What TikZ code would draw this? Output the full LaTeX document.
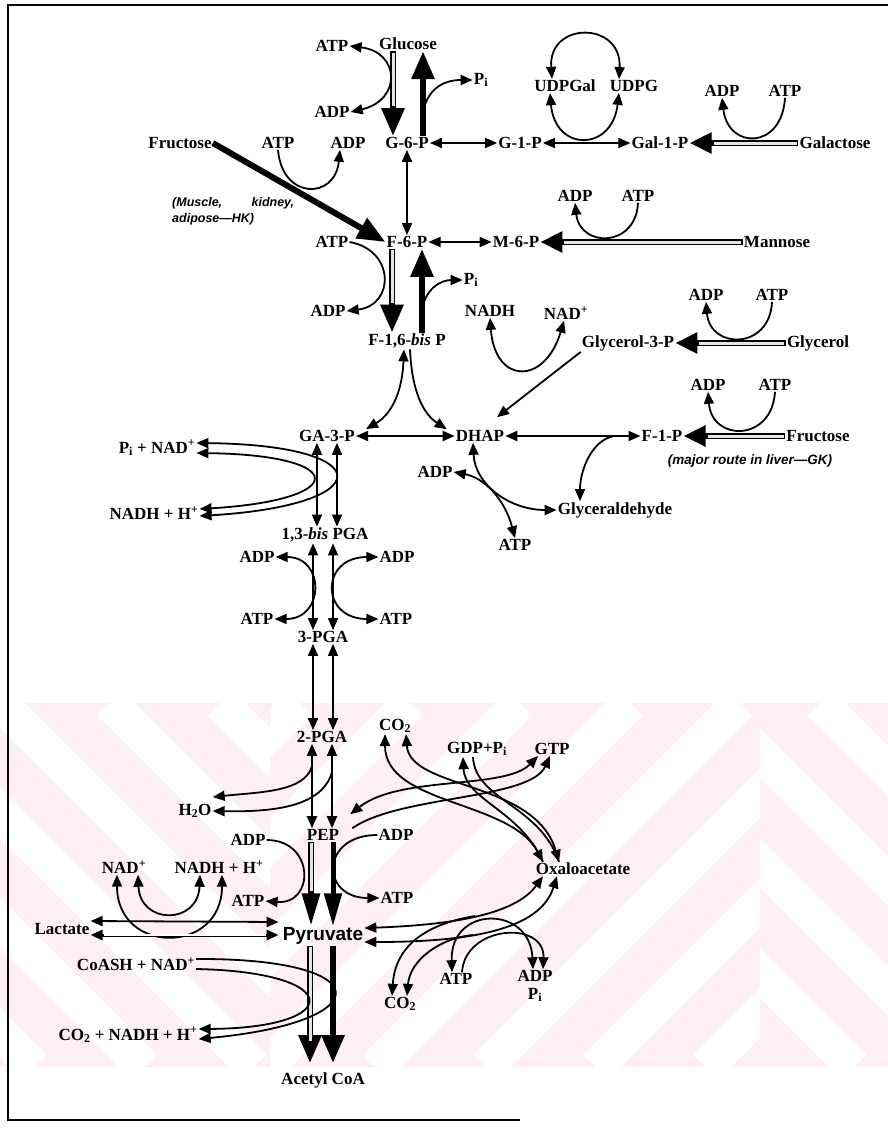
\documentclass[tikz,border=0pt]{standalone}
\usepackage{fontspec}
\setmainfont{Liberation Serif}
\setsansfont{Liberation Sans}
\usetikzlibrary{arrows.meta,positioning}
\definecolor{wmpink}{RGB}{253,239,242}
\definecolor{shaft}{RGB}{228,228,228}

\begin{document}
\begin{tikzpicture}[
  x=1pt, y=-1pt,
  lbl/.style={font=\bfseries\fontsize{17}{18}\selectfont, inner sep=1pt},
  pyrlbl/.style={font=\sffamily\bfseries\fontsize{19}{20}\selectfont, inner sep=1pt},
  note/.style={font=\sffamily\bfseries\itshape\fontsize{12.5}{16}\selectfont, inner sep=0pt, align=left},
  ar/.style={line width=1.8pt, -{Triangle[length=12pt,width=10pt]}},
  dar/.style={line width=1.8pt, {Triangle[length=12pt,width=10pt]}-{Triangle[length=12pt,width=10pt]}},
  plain/.style={line width=1.8pt},
  bigb/.style={line width=6pt, -{Triangle[length=28pt,width=22pt]}},
  hol/.style={line width=6pt, -{Triangle[length=28pt,width=22pt]},
    postaction={draw=shaft, line width=3pt, -, shorten >=30pt, shorten <=1.5pt}},
  bigs/.style={line width=5pt, -{Triangle[length=33pt,width=17pt]}},
  hols/.style={line width=6pt, -{Triangle[length=33pt,width=17pt]},
    postaction={draw=shaft, line width=3pt, -, shorten >=35pt, shorten <=1.5pt}},
  holh/.style={line width=6pt, -{Triangle[length=22pt,width=20pt]},
    postaction={draw=shaft, line width=3pt, -, shorten >=24pt, shorten <=1.5pt}},
  dhol/.style={line width=3pt, {Triangle[length=12pt,width=10pt]}-{Triangle[length=12pt,width=10pt]},
    postaction={draw=white, line width=1.2pt, -, shorten >=13pt, shorten <=13pt}}
]
\useasboundingbox (0,0) rectangle (888,1129);

\begin{scope}
  \clip (0,703) rectangle (888,1067);
  \fill[wmpink] (0,703) rectangle (888,1067);
  \begin{scope}
    \clip (0,703) rectangle (270,1067);
    \foreach \s in {-440,-330,...,280}
      \draw[white, line width=36pt] (\s,703) -- ++(364,364);
  \end{scope}
  \begin{scope}
    \clip (270,703) rectangle (760,1067);
    \foreach \s in {300,410,...,1200}
      \draw[white, line width=36pt] (\s,703) -- ++(-364,364);
  \end{scope}
  \begin{scope}
    \clip (760,703) rectangle (888,1067);
    \foreach \s in {380,490,...,900}
      \draw[white, line width=36pt] (\s,703) -- ++(364,364);
  \end{scope}
\end{scope}

\draw[line width=1.5pt] (888,5) -- (8,5) -- (8,1120) -- (520,1120);

\node[lbl] (atpA) at (332,46) {ATP};
\node[lbl] (glc) at (408,44) {Glucose};
\node[lbl] (adpA) at (332,112) {ADP};
\node[lbl] (piA) at (481,80) {P\textsubscript{i}};
\node[lbl] (udpgal) at (565,86) {UDPGal};
\node[lbl] (udpg) at (634,86) {UDPG};
\node[lbl] (adpB) at (722,91) {ADP};
\node[lbl] (atpB) at (785,91) {ATP};
\node[lbl] (fru) at (180,143) {Fructose};
\node[lbl] (atpC) at (278,143) {ATP};
\node[lbl] (adpC) at (348,143) {ADP};
\node[lbl] (g6p) at (407,143) {G-6-P};
\node[lbl] (g1p) at (520,143) {G-1-P};
\node[lbl] (gal1p) at (660,143) {Gal-1-P};
\node[lbl] (galac) at (835,143) {Galactose};
\node[note, anchor=west, text width=122pt] (hk) at (172,211) {(Muscle,\hfill kidney,\\adipose---HK)};
\node[lbl] (adpD) at (575,196) {ADP};
\node[lbl] (atpD) at (638,196) {ATP};
\node[lbl] (atpE) at (332,242) {ATP};
\node[lbl] (f6p) at (407,242) {F-6-P};
\node[lbl] (m6p) at (516,242) {M-6-P};
\node[lbl] (mann) at (777,242) {Mannose};
\node[lbl] (piB) at (471,280) {P\textsubscript{i}};
\node[lbl] (adpE) at (328,311) {ADP};
\node[lbl] (nadh) at (490,311) {NADH};
\node[lbl] (nadA) at (566,313) {NAD\textsuperscript{+}};
\node[lbl] (adpF) at (706,295) {ADP};
\node[lbl] (atpF) at (772,295) {ATP};
\node[lbl] (f16bp) at (407,341) {F-1,6-\textit{bis} P};
\node[lbl] (g3p) at (628,343) {Glycerol-3-P};
\node[lbl] (glyc) at (818,343) {Glycerol};
\node[lbl] (adpG) at (708,385) {ADP};
\node[lbl] (atpG) at (775,385) {ATP};
\node[lbl] (pinad) at (157,448) {P\textsubscript{i} + NAD\textsuperscript{+}};
\node[lbl] (ga3p) at (327,436) {GA-3-P};
\node[lbl] (dhap) at (480,436) {DHAP};
\node[lbl] (f1p) at (662,436) {F-1-P};
\node[lbl] (fruB) at (818,436) {Fructose};
\node[note, font=\sffamily\bfseries\itshape\fontsize{13.5}{16}\selectfont] (gk) at (750,461) {(major route in liver---GK)};
\node[lbl] (adpH) at (435,472) {ADP};
\node[lbl] (nadhA) at (154,513) {NADH + H\textsuperscript{+}};
\node[lbl] (glyald) at (615,510) {Glyceraldehyde};
\node[lbl] (bpga) at (325,535) {1,3-\textit{bis} PGA};
\node[lbl] (atpH) at (515,545) {ATP};
\node[lbl] (adpI) at (257,557) {ADP};
\node[lbl] (adpJ) at (397,557) {ADP};
\node[lbl] (atpI) at (257,619) {ATP};
\node[lbl] (atpJ) at (396,619) {ATP};
\node[lbl] (pga3) at (323,637) {3-PGA};
\node[lbl] (co2A) at (395,726) {CO\textsubscript{2}};
\node[lbl] (pga2) at (322,737) {2-PGA};
\node[lbl] (gdp) at (477,749) {GDP+P\textsubscript{i}};
\node[lbl] (gtp) at (552,749) {GTP};
\node[lbl] (h2o) at (195,811) {H\textsubscript{2}O};
\node[lbl] (adpK) at (248,840) {ADP};
\node[lbl] (pep) at (323,835) {PEP};
\node[lbl] (adpL) at (396,835) {ADP};
\node[lbl] (nadB) at (124,867) {NAD\textsuperscript{+}};
\node[lbl] (nadhB) at (219,867) {NADH + H\textsuperscript{+}};
\node[lbl] (oaa) at (583,869) {Oxaloacetate};
\node[lbl] (atpK) at (248,901) {ATP};
\node[lbl] (atpL) at (397,898) {ATP};
\node[lbl] (lact) at (62,929) {Lactate};
\node[pyrlbl] (pyr) at (323,936) {Pyruvate};
\node[lbl] (coash) at (136,964) {CoASH + NAD\textsuperscript{+}};
\node[lbl] (atpM) at (456,979) {ATP};
\node[lbl] (adpM) at (535,976) {ADP};
\node[lbl] (piC) at (535,995) {P\textsubscript{i}};
\node[lbl] (co2B) at (400,1004) {CO\textsubscript{2}};
\node[lbl] (co2n) at (128,1035) {CO\textsubscript{2} + NADH + H\textsuperscript{+}};
\node[lbl] (acoa) at (323,1080) {Acetyl CoA};

\coordinate (jpiA) at (423,112);
\coordinate (jpiB) at (422,312);
\coordinate (jglyald) at (614,436);
\coordinate (jh2oA) at (312,766);
\coordinate (jh2oB) at (332,772);
\coordinate (jco2A) at (475,916);
\coordinate (jco2B) at (473,935);

\draw[hol] ([xshift=-15pt]glc.south) -- ([xshift=-14pt]g6p.north);
\draw[bigb] ([xshift=16pt]g6p.north) -- ([xshift=15pt]glc.south);
\draw[dar] (atpA.east) .. controls (400,52) and (402,100) .. (adpA.east);
\draw[ar] (jpiA) .. controls (427,92) and (440,80) .. (piA.west);
\draw[dar] ([xshift=-13pt]udpgal.north) .. controls (548,21) and (622,21) .. ([xshift=-15pt]udpg.north);
\draw[dar] ([xshift=-15pt]udpgal.south) .. controls (555,152) and (612,152) .. ([xshift=-15pt]udpg.south);
\draw[dar] (g6p.east) -- (g1p.west);
\draw[dar] (g1p.east) -- (gal1p.west);
\draw[holh] (galac.west) -- (gal1p.east);
\draw[ar] (atpB.south) .. controls (782,150) and (728,150) .. (adpB.south);
\draw[bigb] (fru.east) -- (f6p.west);
\draw[ar] (atpC.south) .. controls (282,200) and (335,200) .. ([xshift=-8pt]adpC.south);
\draw[dar] (g6p.south) -- (f6p.north);
\draw[dar] (f6p.east) -- (m6p.west);
\draw[holh] (mann.west) -- (m6p.east);
\draw[ar] (atpD.south) .. controls (636,248) and (580,248) .. (adpD.south);

\draw[hol] ([xshift=-15pt]f6p.south) -- ([xshift=-15pt]f16bp.north);
\draw[bigb] ([xshift=15pt]f16bp.north) -- ([xshift=15pt]f6p.south);
\draw[ar] (atpE.east) .. controls (395,250) and (395,305) .. (adpE.east);
\draw[ar] (jpiB) .. controls (424,290) and (440,280) .. (piB.west);
\draw[dar] ([xshift=-3pt]f16bp.south) .. controls (402,395) and (390,415) .. ([xshift=10pt]ga3p.north east);
\draw[ar] ([xshift=3pt]f16bp.south) .. controls (412,395) and (425,415) .. ([xshift=-8pt]dhap.north west);
\draw[dar] (ga3p.east) -- (dhap.west);
\draw[holh] (glyc.west) -- (g3p.east);
\draw[ar] (atpF.south) .. controls (770,350) and (710,350) .. (adpF.south);
\draw[ar] (g3p.south west) -- ([xshift=17pt,yshift=12pt]dhap.north);
\draw[dar] (nadh.south) .. controls (495,385) and (545,385) .. ([xshift=-2pt]nadA.south);
\draw[dar] (dhap.east) -- (f1p.west);
\draw[holh] (fruB.west) -- (f1p.east);
\draw[ar] (atpG.south) .. controls (772,442) and (712,442) .. (adpG.south);
\draw[ar] (jglyald) .. controls (592,440) and (580,470) .. ([xshift=-35pt]glyald.north);
\draw[dar] ([xshift=-7pt]dhap.south) .. controls (475,485) and (510,510) .. (glyald.west);
\draw[dar] (adpH.east) .. controls (485,478) and (505,500) .. (atpH.north);

\draw[dar] ([yshift=5pt]pinad.east) .. controls (380,445) and (380,505) .. ([yshift=-3pt]nadhA.east);
\draw[dar] ([yshift=-5pt]pinad.east) .. controls (350,455) and (350,500) .. ([yshift=4pt]nadhA.east);
\draw[dar] ([xshift=-10pt]ga3p.south) -- ([xshift=-10pt]ga3p.south |- bpga.north);
\draw[dar] ([xshift=10pt]ga3p.south) -- ([xshift=10pt]ga3p.south |- bpga.north);
\draw[dar] ([xshift=-12pt]bpga.south) -- ([xshift=-12pt]bpga.south |- pga3.north);
\draw[dar] ([xshift=8pt]bpga.south) -- ([xshift=8pt]bpga.south |- pga3.north);
\draw[dar] (adpI.east) .. controls (325,557) and (325,619) .. (atpI.east);
\draw[dar] (adpJ.west) .. controls (320,557) and (320,619) .. (atpJ.west);
\draw[dar] ([xshift=-10pt]pga3.south) -- ([xshift=-10pt]pga3.south |- pga2.north);
\draw[dar] ([xshift=10pt]pga3.south) -- ([xshift=10pt]pga3.south |- pga2.north);

\draw[dar] ([xshift=-10pt]pga2.south) -- ([xshift=-10pt]pga2.south |- pep.north);
\draw[dar] ([xshift=10pt]pga2.south) -- ([xshift=10pt]pga2.south |- pep.north);
\draw[ar] (jh2oA) .. controls (305,792) and (260,792) .. ([yshift=14pt]h2o.east);
\draw[ar] (jh2oB) .. controls (322,808) and (270,812) .. (h2o.east);
\draw[dar] ([xshift=10pt,yshift=14pt]pep.north east) .. controls (400,775) and (505,790) .. ([xshift=-14pt]gtp.south);
\draw[ar] ([xshift=12pt]pep.north east) .. controls (400,795) and (530,800) .. ([xshift=-2pt]gtp.south);
\draw[dar] ([xshift=-10pt]co2A.south) .. controls (385,805) and (510,800) .. ([xshift=-40pt]oaa.north);
\draw[dar] ([xshift=11pt]co2A.south) .. controls (410,790) and (535,780) .. ([xshift=-24pt]oaa.north);
\draw[ar] ([xshift=-40pt]oaa.north) .. controls (520,810) and (465,800) .. ([xshift=-14pt]gdp.south);
\draw[plain] ([xshift=-4pt]gdp.south) .. controls (475,800) and (540,805) .. ([xshift=-24pt]oaa.north);

\draw[hols] ([xshift=-12pt]pep.south) -- ([xshift=-12pt]pep.south |- pyr.north);
\draw[bigs] ([xshift=10pt]pep.south) -- ([xshift=10pt]pep.south |- pyr.north);
\draw[ar] (adpK.east) .. controls (315,840) and (315,905) .. (atpK.east);
\draw[ar] (adpL.west) .. controls (320,835) and (320,898) .. (atpL.west);
\draw[dar] ([xshift=14pt]nadB.south) .. controls (140,925) and (198,925) .. ([xshift=-19pt]nadhB.south);
\draw[dar] ([xshift=-7pt]nadB.south) .. controls (117,955) and (222,955) .. ([xshift=3pt]nadhB.south);
\draw[dar] ([yshift=8pt]lact.east) -- ([xshift=-3pt,yshift=14pt]pyr.west);
\draw[dhol] ([yshift=-6pt]lact.east) -- ([xshift=-3pt,yshift=1pt]pyr.west);

\draw[dar] ([yshift=8pt]pyr.east) .. controls (450,925) and (515,915) .. ([xshift=-40pt]oaa.south);
\draw[dar] ([yshift=-6pt]pyr.east) .. controls (470,942) and (540,930) .. ([xshift=-26pt]oaa.south);
\draw[ar] (jco2A) .. controls (420,925) and (395,950) .. ([xshift=-8pt]co2B.north);
\draw[ar] (jco2B) .. controls (440,938) and (410,960) .. ([xshift=7pt]co2B.north);
\draw[dar] ([xshift=-4pt]atpM.north) .. controls (450,905) and (530,905) .. ([xshift=-2pt]adpM.north);
\draw[ar] ([xshift=6pt]atpM.north) .. controls (465,925) and (545,920) .. ([xshift=8pt]adpM.north);

\draw[hol, shorten >=8pt] ([xshift=-13pt]pyr.south) -- ([xshift=-13pt]pyr.south |- acoa.north);
\draw[bigb, shorten >=8pt] ([xshift=10pt]pyr.south) -- ([xshift=10pt]pyr.south |- acoa.north);
\draw[ar] ([yshift=5pt]coash.east) .. controls (380,958) and (380,1022) .. ([yshift=-4pt]co2n.east);
\draw[ar] ([yshift=-5pt]coash.east) .. controls (345,972) and (345,1028) .. ([yshift=6pt]co2n.east);
\end{tikzpicture}
\end{document}
